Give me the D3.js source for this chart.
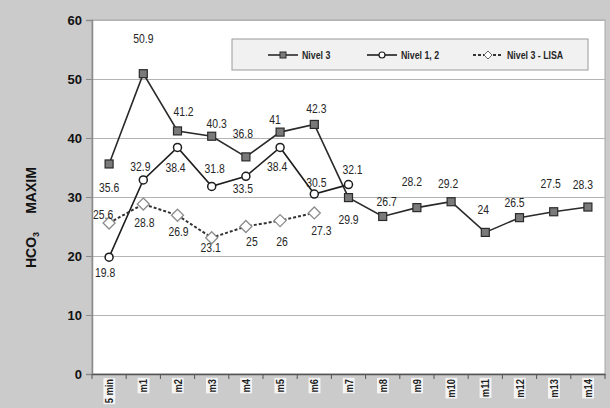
<!DOCTYPE html>
<html>
<head>
<meta charset="utf-8">
<script src="https://cdn.jsdelivr.net/npm/d3@7"></script>
<style>
  html, body { margin: 0; padding: 0; background: #cbcbcb; }
  svg { display: block; }
</style>
</head>
<body>
<svg id="chart" width="610" height="408"></svg>
<script>
// Categories along the x axis
const categories = ["5 min", "m1", "m2", "m3", "m4", "m5", "m6", "m7",
                    "m8", "m9", "m10", "m11", "m12", "m13", "m14"];

// Series values (null = no measurement)
const nivel3     = [35.6, 50.9, 41.2, 40.3, 36.8, 41, 42.3, 29.9, 26.7, 28.2, 29.2, 24, 26.5, 27.5, 28.3];
const nivel12    = [19.8, 32.9, 38.4, 31.8, 33.5, 38.4, 30.5, 32.1, null, null, null, null, null, null, null];
const nivel3Lisa = [25.6, 28.8, 26.9, 23.1, 25, 26, 27.3, null, null, null, null, null, null, null, null];

const yTicks = [0, 10, 20, 30, 40, 50, 60];

// Data-label placement relative to each point: [dx, dy]
const nivel3LabelOffset = [[0, 23], [0, -35], [6, -19], [5, -13], [-3, -23], [-5, -13], [2, -16], [0, 22],
                           [4, -15], [-5, -26], [-3, -18], [-2, -23], [-5, -15], [-3, -28], [-5, -23]];
const nivel12LabelOffset = [[-4, 15], [-3, -13], [-2, 20], [3, -18], [-3, 12], [-3, 19], [2, -12], [4, -15]];
const lisaLabelOffset = [[-6, -9], [1, 18], [1, 16], [-1, 10], [6, 15], [2, 21], [7, 18]];

const svg = d3.select("#chart");
const plot = { left: 92, right: 605, top: 20, bottom: 374 };

const x = d3.scaleBand().domain(categories).range([plot.left, plot.right]).padding(0);
const y = d3.scaleLinear().domain([0, 60]).range([plot.bottom, plot.top]);
const cx = c => x(c) + x.bandwidth() / 2;

const sansFont = "'Liberation Sans', Arial, sans-serif";
const narrow = 0.8; // horizontal squeeze for a condensed look

// Plot area
svg.append("rect")
  .attr("x", plot.left).attr("y", plot.top)
  .attr("width", plot.right - plot.left).attr("height", plot.bottom - plot.top)
  .attr("fill", "#ffffff").attr("stroke", "#a8a8a8").attr("stroke-width", 1);

// Horizontal gridlines
svg.append("g").selectAll("line")
  .data(yTicks.filter(t => t > 0))
  .join("line")
  .attr("x1", plot.left).attr("x2", plot.right)
  .attr("y1", d => y(d) + 0.5).attr("y2", d => y(d) + 0.5)
  .attr("stroke", "#b4b4b4").attr("stroke-width", 1);

// Y axis
const yAxis = svg.append("g")
  .attr("transform", `translate(${plot.left},0)`)
  .call(d3.axisLeft(y).tickValues(yTicks).tickSize(6).tickPadding(4));
yAxis.select(".domain").attr("stroke", "#8a8a8a").attr("stroke-width", 1.5);
yAxis.selectAll(".tick line").attr("stroke", "#8a8a8a");
yAxis.selectAll(".tick text")
  .attr("font-family", sansFont)
  .attr("font-weight", "bold").attr("font-size", 13).attr("fill", "#111");

// X axis: baseline with ticks at category boundaries
const xAxis = svg.append("g")
  .attr("transform", `translate(0,${plot.bottom})`)
  .call(d3.axisBottom(x).tickSize(0).tickPadding(0));
xAxis.select(".domain").attr("stroke", "#555").attr("stroke-width", 1.3);
xAxis.selectAll(".tick text").remove();

const bounds = categories.map(c => x(c)).concat([plot.right]);
xAxis.append("g").selectAll("line")
  .data(bounds)
  .join("line")
  .attr("x1", d => d).attr("x2", d => d)
  .attr("y1", 0).attr("y2", 5)
  .attr("stroke", "#555").attr("stroke-width", 1);

// Rotated category labels on light boxes
const xl = svg.append("g").selectAll("g")
  .data(categories)
  .join("g")
  .attr("transform", d => `translate(${cx(d) + 4},${plot.bottom + 5}) rotate(-90) scale(0.85,1)`);
xl.append("text")
  .attr("text-anchor", "end")
  .attr("font-family", sansFont)
  .attr("font-size", 11)
  .attr("font-weight", "bold")
  .attr("fill", "#222")
  .text(d => d);
xl.each(function () {
  const t = d3.select(this).select("text");
  const b = t.node().getBBox();
  d3.select(this).insert("rect", "text")
    .attr("x", b.x - 1).attr("y", b.y)
    .attr("width", b.width + 2).attr("height", b.height)
    .attr("fill", "#f4f4f4");
});

// Y-axis title
const yTitle = svg.append("text")
  .attr("transform", "translate(36,268) rotate(-90)")
  .attr("font-family", sansFont)
  .attr("font-weight", "bold").attr("font-size", 14).attr("fill", "#111");
yTitle.append("tspan").text("HCO");
yTitle.append("tspan").attr("font-size", 9).attr("dy", 3).text("3");
yTitle.append("tspan").attr("dy", -3).attr("dx", 18).text("MAXIM");

// Series definitions
const series = [
  { name: "Nivel 3", values: nivel3, offsets: nivel3LabelOffset, marker: "square", dash: null, stroke: "#2a2a2a", width: 1.6 },
  { name: "Nivel 1, 2", values: nivel12, offsets: nivel12LabelOffset, marker: "circle", dash: null, stroke: "#1e1e1e", width: 1.6 },
  { name: "Nivel 3 - LISA", values: nivel3Lisa, offsets: lisaLabelOffset, marker: "diamond", dash: "3,2", stroke: "#333", width: 2 }
];

const line = d3.line()
  .defined(d => d.v != null)
  .x(d => cx(d.c))
  .y(d => y(d.v));

function drawMarker(g, type, px, py) {
  if (type === "square") {
    g.append("rect").attr("x", px - 4).attr("y", py - 4).attr("width", 8).attr("height", 8)
      .attr("fill", "#7a7a7a").attr("stroke", "#2a2a2a").attr("stroke-width", 1.2);
  } else if (type === "circle") {
    g.append("circle").attr("cx", px).attr("cy", py).attr("r", 4)
      .attr("fill", "#fff").attr("stroke", "#1e1e1e").attr("stroke-width", 1.5);
  } else {
    g.append("path")
      .attr("d", `M${px},${py - 6}L${px + 6},${py}L${px},${py + 6}L${px - 6},${py}Z`)
      .attr("fill", "#fff").attr("stroke", "#8c8c8c").attr("stroke-width", 1.3);
  }
}

// Condensed text helper: squeezes horizontally around its anchor point
function condensedText(parent, tx, ty, str, size, weight, anchor) {
  const g = parent.append("g").attr("transform", `translate(${tx},${ty}) scale(${narrow},1)`);
  return g.append("text")
    .attr("dy", "0.35em")
    .attr("text-anchor", anchor)
    .attr("font-family", sansFont)
    .attr("font-size", size)
    .attr("font-weight", weight)
    .attr("fill", "#262626")
    .text(str);
}

const linesG = svg.append("g");
const markersG = svg.append("g");
const labelsG = svg.append("g");

series.forEach(s => {
  const pts = categories.map((c, i) => ({ c, v: s.values[i] }));
  linesG.append("path")
    .datum(pts)
    .attr("d", line)
    .attr("fill", "none")
    .attr("stroke", s.stroke)
    .attr("stroke-width", s.width)
    .attr("stroke-dasharray", s.dash);

  pts.forEach((p, i) => {
    if (p.v == null) return;
    drawMarker(markersG, s.marker, cx(p.c), y(p.v));
    const off = s.offsets[i] || [0, -16];
    condensedText(labelsG, cx(p.c) + off[0], y(p.v) + off[1], p.v, 13, "normal", "middle");
  });
});

// Legend
const legend = svg.append("g");
legend.append("rect")
  .attr("x", 232).attr("y", 39).attr("width", 356).attr("height", 31)
  .attr("fill", "#f1f1f1").attr("stroke", "#9a9a9a").attr("stroke-width", 1);
const legendX = [268, 367, 473];
series.forEach((s, i) => {
  const lx = legendX[i], ly = 55;
  legend.append("line")
    .attr("x1", lx).attr("x2", lx + 30).attr("y1", ly).attr("y2", ly)
    .attr("stroke", s.stroke).attr("stroke-width", s.width)
    .attr("stroke-dasharray", s.dash);
  const mg = legend.append("g");
  if (s.marker === "square") {
    mg.append("rect").attr("x", lx + 12).attr("y", ly - 3).attr("width", 6).attr("height", 6)
      .attr("fill", "#7a7a7a").attr("stroke", "#2a2a2a");
  } else if (s.marker === "circle") {
    mg.append("circle").attr("cx", lx + 15).attr("cy", ly).attr("r", 3)
      .attr("fill", "#fff").attr("stroke", "#1e1e1e").attr("stroke-width", 1.2);
  } else {
    mg.append("path")
      .attr("d", `M${lx + 15},${ly - 4}L${lx + 19},${ly}L${lx + 15},${ly + 4}L${lx + 11},${ly}Z`)
      .attr("fill", "#fff").attr("stroke", "#666");
  }
  condensedText(legend, lx + 34, ly, s.name, 11, "bold", "start");
});
</script>
</body>
</html>
